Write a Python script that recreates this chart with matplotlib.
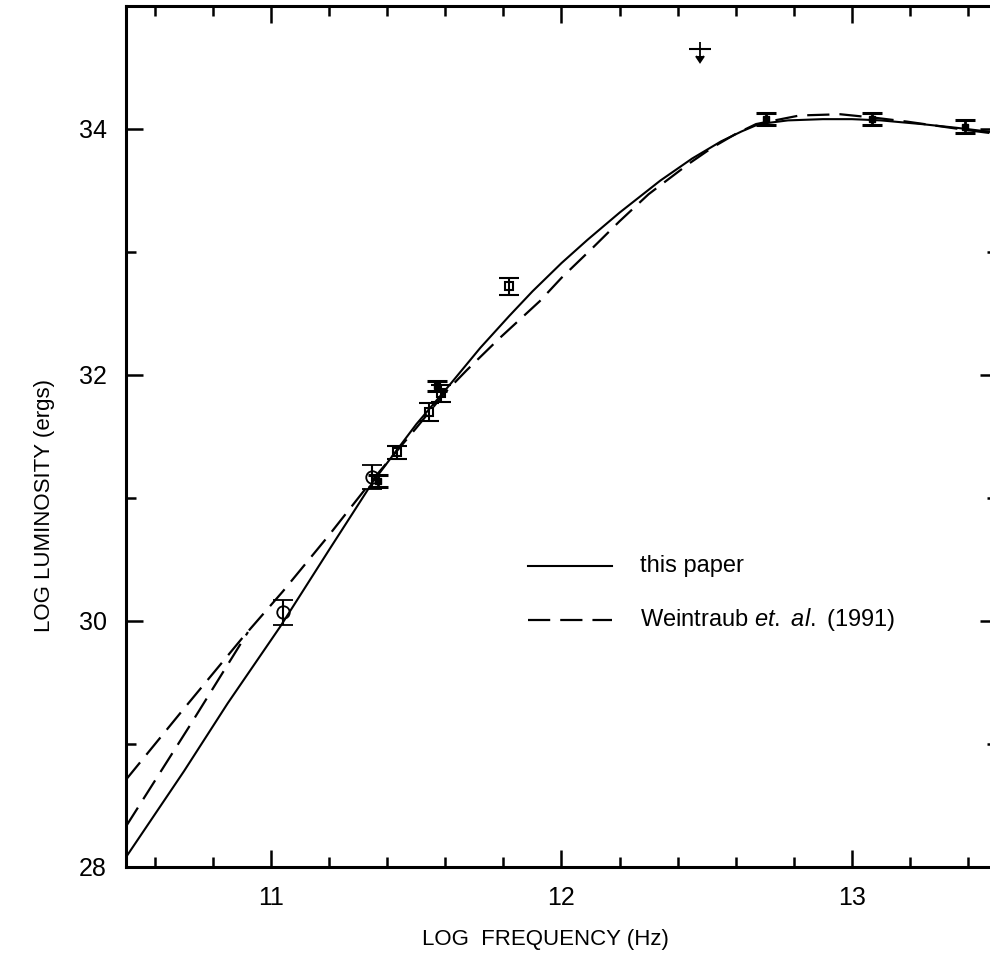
import matplotlib
matplotlib.use("Agg")
import matplotlib.pyplot as plt

plt.rcParams['font.family'] = ['Liberation Sans', 'DejaVu Sans']
plt.rcParams['mathtext.fontset'] = 'custom'
plt.rcParams['mathtext.rm'] = 'Liberation Sans'
plt.rcParams['mathtext.it'] = 'Liberation Sans:italic'

# ---- data ----
solid_x = [10.5, 10.7, 10.85, 11.03, 11.2, 11.35, 11.5, 11.615, 11.72, 11.82, 11.9, 12.0,
           12.09, 12.2, 12.34, 12.45, 12.55, 12.62, 12.68, 12.78, 12.9, 13.0, 13.1, 13.24,
           13.36, 13.5]
solid_y = [28.08, 28.78, 29.33, 29.95, 30.58, 31.13, 31.6, 31.92, 32.22, 32.48, 32.68, 32.91,
           33.1, 33.32, 33.58, 33.76, 33.9, 33.98, 34.04, 34.07, 34.08, 34.08, 34.07, 34.04,
           34.01, 33.97]

dashA_x = [10.5, 10.69, 10.9, 11.04, 11.2, 11.35, 11.5, 11.6, 11.674, 11.787, 11.925, 12.0,
           12.11, 12.2, 12.3, 12.44, 12.52, 12.6, 12.67, 12.82, 12.96, 13.085, 13.19, 13.28,
           13.4, 13.5]
dashA_y = [28.71, 29.26, 29.86, 30.24, 30.7, 31.15, 31.57, 31.86, 32.04, 32.3, 32.6, 32.79,
           33.04, 33.25, 33.47, 33.72, 33.85, 33.96, 34.04, 34.11, 34.12, 34.09, 34.06, 34.03,
           33.99, 33.96]

dashC_x = [10.5, 10.72, 10.92]
dashC_y = [28.33, 29.15, 29.91]

circ_x = [11.04, 11.347]
circ_y = [30.07, 31.17]
circ_err = [0.10, 0.10]

sq_x = [11.433, 11.543, 11.585, 11.818]
sq_y = [31.37, 31.70, 31.85, 32.72]
sq_err = [0.05, 0.07, 0.07, 0.07]

fill_x = [11.367, 11.57, 12.706, 13.07, 13.39]
fill_y = [31.14, 31.91, 34.08, 34.08, 34.02]
fill_err = [0.05, 0.04, 0.05, 0.05, 0.05]

ulim_x = [12.476]
ulim_y = [34.65]

x_major = [11, 12, 13]
y_major = [28, 30, 32, 34]

# ---- figure ----
fig = plt.figure(figsize=(9.9, 9.66), dpi=100)
W, H = 990, 966
left, right, top, bottom = 126, 997, 6, 867
ax = fig.add_axes([left / W, (H - bottom) / H, (right - left) / W, (bottom - top) / H])
ax.set_xlim(10.5, 13.5)
ax.set_ylim(28, 35)

ax.plot(solid_x, solid_y, color='black', lw=1.5)
ax.plot(dashA_x, dashA_y, color='black', lw=1.6, dashes=(10, 4.5))
ax.plot(dashC_x, dashC_y, color='black', lw=1.6, dashes=(10, 4.5))

ax.errorbar(circ_x, circ_y, yerr=circ_err, fmt='o', mfc='none', mec='black', ms=9,
            mew=1.3, ecolor='black', elinewidth=1.5, capsize=7, capthick=1.8)
ax.errorbar(sq_x, sq_y, yerr=sq_err, fmt='s', mfc='none', mec='black', ms=6,
            mew=1.5, ecolor='black', elinewidth=1.5, capsize=7, capthick=1.8)
ax.errorbar(fill_x, fill_y, yerr=fill_err, fmt='s', color='black', ms=4,
            ecolor='black', elinewidth=2, capsize=7, capthick=2.2)
ax.errorbar(ulim_x, ulim_y, yerr=0.06, uplims=True, fmt='_', color='black', ms=16,
            mew=1.5, elinewidth=1.3)
ax.errorbar(ulim_x, ulim_y, yerr=[[0], [0.06]], fmt='none', ecolor='black', elinewidth=1.3)

# legend (manual)
ax.plot([0.4615, 0.558], [0.3496, 0.3496], transform=ax.transAxes, color='black', lw=1.5)
ax.plot([0.4615, 0.558], [0.287, 0.287], transform=ax.transAxes, color='black', lw=1.6,
        dashes=(10, 4.5))
ax.text(0.590, 0.3496, 'this paper', transform=ax.transAxes, fontsize=17, va='center')
ax.text(0.590, 0.287, r'Weintraub $\it{et.\ al.}$ (1991)', transform=ax.transAxes,
        fontsize=17, va='center')

# ticks
ax.set_xticks(x_major)
ax.set_xticks([v / 10 for v in range(106, 136, 2) if v % 10 != 0], minor=True)
ax.set_yticks(y_major)
ax.set_yticks([29, 31, 33], minor=True)
ax.tick_params(which='both', direction='in', top=True, right=True, width=1.8,
               labelsize=18, pad=14)
ax.tick_params(which='major', length=12)
ax.tick_params(which='minor', length=7)
for s in ax.spines.values():
    s.set_linewidth(2.2)

fig.text(545 / W, 1 - 940 / H, 'LOG  FREQUENCY (Hz)', ha='center', va='center', fontsize=16)
fig.text(45 / W, 1 - 505 / H, 'LOG LUMINOSITY (ergs)', ha='center', va='center',
         rotation=90, fontsize=16)

fig.savefig('out.png', dpi=100)
